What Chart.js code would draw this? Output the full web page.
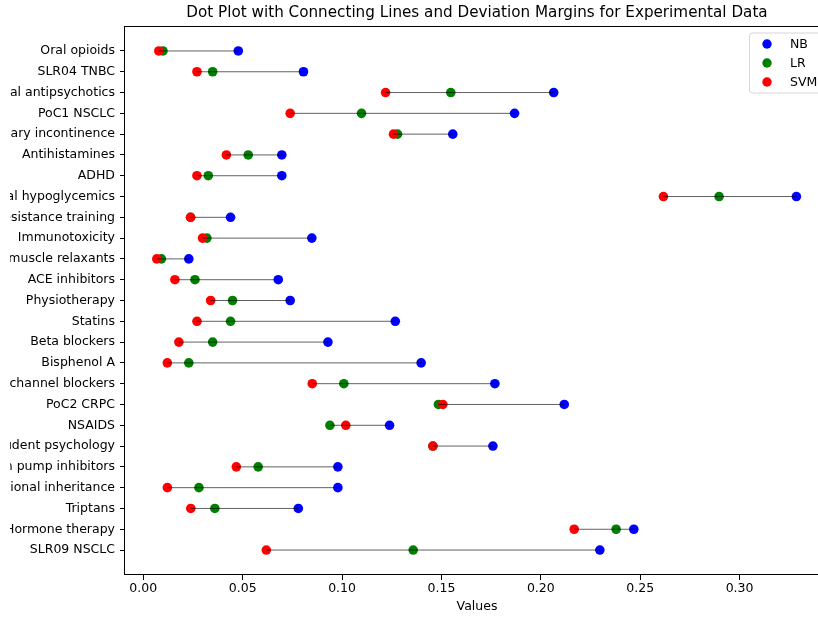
<!DOCTYPE html>
<html>
<head>
<meta charset="utf-8">
<script src="https://cdn.jsdelivr.net/npm/chart.js@4.4.1/dist/chart.umd.min.js"></script>
<style>
  html, body { margin: 0; padding: 0; background: #fff; overflow: hidden; }
  #wrap { position: relative; width: 818px; height: 617px; overflow: hidden; }
  #chart { position: absolute; left: 10px; top: 0; }
</style>
</head>
<body>
<div id="wrap"><canvas id="chart" width="824" height="617"></canvas></div>
<script>
// categories, top to bottom
const categories = [
  "Oral opioids", "SLR04 TNBC", "Atypical antipsychotics", "PoC1 NSCLC",
  "Urinary incontinence", "Antihistamines", "ADHD", "Oral hypoglycemics",
  "Resistance training", "Immunotoxicity", "Skeletal muscle relaxants", "ACE inhibitors",
  "Physiotherapy", "Statins", "Beta blockers", "Bisphenol A",
  "Calcium channel blockers", "PoC2 CRPC", "NSAIDS", "Student psychology",
  "Proton pump inhibitors", "Transgenerational inheritance", "Triptans", "Hormone therapy",
  "SLR09 NSCLC"
];

// series values
const nbValues = [
  0.0478, 0.0806, 0.2065, 0.1868, 0.1557, 0.0697, 0.0697, 0.3286,
  0.0439, 0.0848, 0.0229, 0.0679, 0.0739, 0.1268, 0.0929, 0.1398,
  0.1769, 0.2118, 0.1239, 0.1759, 0.0979, 0.0979, 0.0780, 0.2468,
  0.2297
];
const lrValues = [
  0.0099, 0.0349, 0.1547, 0.1098, 0.1279, 0.0528, 0.0327, 0.2897,
  0.0238, 0.0320, 0.0091, 0.0260, 0.0449, 0.0439, 0.0349, 0.0229,
  0.1009, 0.1485, 0.0939, 0.1457, 0.0578, 0.0280, 0.0360, 0.2379,
  0.1358
];
const svmValues = [
  0.0078, 0.0270, 0.1219, 0.0739, 0.1259, 0.0418, 0.0270, 0.2617,
  0.0238, 0.0298, 0.0068, 0.0159, 0.0339, 0.0270, 0.0179, 0.0121,
  0.0850, 0.1507, 0.1019, 0.1457, 0.0468, 0.0121, 0.0239, 0.2168,
  0.0619
];

const seriesNames = ["NB", "LR", "SVM"];
const seriesColors = ["#0000ff", "#008000", "#ff0000"];
const xTicks = [0, 0.05, 0.10, 0.15, 0.20, 0.25, 0.30];

const FONT = "'DejaVu Sans', sans-serif";
const FS = 12.5;

// points for each series
function toPoints(vals) {
  return vals.map((v, i) => ({ x: v, y: i }));
}

// connecting lines, min to max for each row, broken by nulls
const linePoints = [];
categories.forEach((c, i) => {
  const vals = [nbValues[i], lrValues[i], svmValues[i]];
  linePoints.push({ x: Math.min(...vals), y: i });
  linePoints.push({ x: Math.max(...vals), y: i });
  linePoints.push({ x: null, y: null });
});

const allSeries = [nbValues, lrValues, svmValues];

const extras = {
  id: "extras",
  afterDraw(chart) {
    const ctx = chart.ctx;
    const a = chart.chartArea;
    ctx.save();
    // frame
    ctx.strokeStyle = "#000";
    ctx.lineWidth = 1;
    ctx.strokeRect(Math.round(a.left) - 0.5, Math.round(a.top) + 0.5,
      Math.round(a.right - a.left) + 1, Math.round(a.bottom - a.top) - 1);
    // title
    ctx.fillStyle = "#000";
    ctx.font = "15.2px " + FONT;
    ctx.textAlign = "center";
    ctx.textBaseline = "middle";
    ctx.fillText("Dot Plot with Connecting Lines and Deviation Margins for Experimental Data",
      (a.left + a.right) / 2, 13);
    // legend
    const w = 74, h = 60;
    const right = a.right - 6, top = a.top + 6.5;
    const left = right - w;
    ctx.beginPath();
    ctx.roundRect(left + 0.5, top + 0.5, w, h, 3);
    ctx.fillStyle = "rgba(255,255,255,0.8)";
    ctx.fill();
    ctx.strokeStyle = "#d6d6d6";
    ctx.stroke();
    ctx.font = FS + "px " + FONT;
    ctx.textAlign = "left";
    seriesNames.forEach((name, k) => {
      const y = top + 11.5 + k * 19;
      ctx.beginPath();
      ctx.arc(left + 18, y, 4.7, 0, Math.PI * 2);
      ctx.fillStyle = seriesColors[k];
      ctx.fill();
      ctx.fillStyle = "#000";
      ctx.fillText(name, left + 41, y + 0.5);
    });
    ctx.restore();
  }
};

const datasets = allSeries.map((vals, k) => ({
  type: "scatter",
  label: seriesNames[k],
  data: toPoints(vals),
  backgroundColor: seriesColors[k],
  borderColor: seriesColors[k],
  borderWidth: 0,
  pointRadius: 4.8,
  pointHoverRadius: 4.8,
  order: 3 - k
}));
datasets.push({
  type: "line",
  label: "lines",
  data: linePoints,
  borderColor: "rgba(0,0,0,0.62)",
  borderWidth: 1,
  pointRadius: 0,
  spanGaps: false,
  fill: false,
  order: 0
});

new Chart(document.getElementById("chart"), {
  type: "scatter",
  data: { datasets },
  plugins: [extras],
  options: {
    responsive: false,
    animation: false,
    layout: { padding: { top: 26, right: 5, left: 0, bottom: 0 } },
    plugins: {
      legend: { display: false },
      title: { display: false },
      tooltip: { enabled: false }
    },
    scales: {
      x: {
        type: "linear",
        min: -0.0092,
        max: 0.345,
        afterFit: s => { s.height = 42; },
        afterBuildTicks: s => { s.ticks = xTicks.map(v => ({ value: v })); },
        border: { display: false },
        grid: { drawOnChartArea: false, drawTicks: true, tickLength: 5, tickColor: "#000" },
        ticks: {
          color: "#000",
          padding: 1,
          maxRotation: 0,
          font: { family: FONT, size: FS },
          callback: v => v.toFixed(2)
        },
        title: {
          display: true,
          text: "Values",
          color: "#000",
          font: { family: FONT, size: FS },
          padding: { top: 0, bottom: 3 }
        }
      },
      y: {
        type: "linear",
        reverse: true,
        min: -1.2,
        max: 25.2,
        afterFit: s => { s.width = 115; },
        afterBuildTicks: s => { s.ticks = categories.map((c, i) => ({ value: i })); },
        border: { display: false },
        grid: { drawOnChartArea: false, drawTicks: true, tickLength: 5, tickColor: "#000" },
        ticks: {
          color: "#000",
          padding: 5,
          autoSkip: false,
          font: { family: FONT, size: FS },
          callback: v => categories[v]
        }
      }
    }
  }
});
</script>
</body>
</html>
